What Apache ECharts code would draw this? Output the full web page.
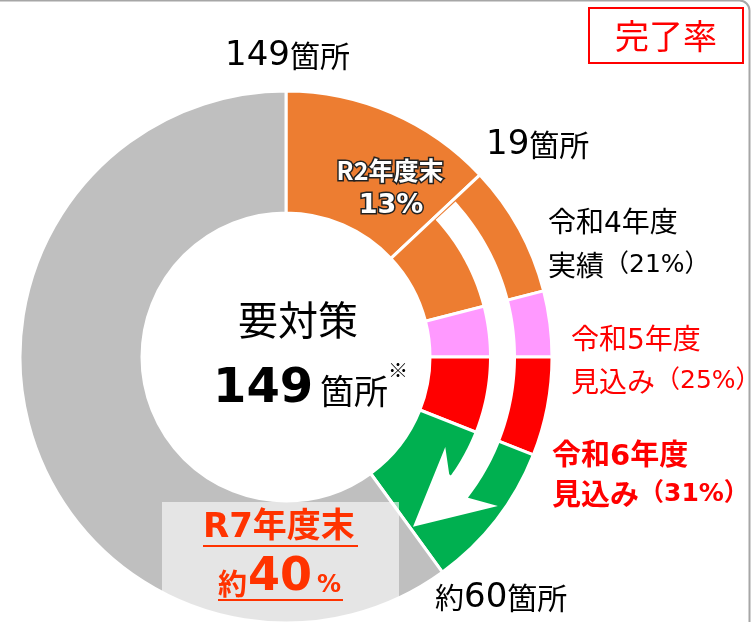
<!DOCTYPE html>
<html>
<head>
<meta charset="utf-8">
<script src="https://cdn.jsdelivr.net/npm/echarts@6/dist/echarts.min.js"></script>
<style>
html,body{margin:0;padding:0;background:#fff;}
#main{width:752px;height:622px;}
</style>
</head>
<body>
<div id="main"></div>
<script>
// ---- data ----
const categories = ['R2年度末', '令和4年度実績', '令和5年度見込み', '令和6年度見込み', '令和7年度末', '未対策'];
const shares = [13, 8, 4, 6, 9, 60];          // % of 149 sites
const milestoneCounts = ['149', '19', '60'];
const totalSites = 149;

// ---- style ----
const colors = ['#ed7d31', '#ed7d31', '#ff99ff', '#ff0000', '#00b050', '#bfbfbf'];
const cx = 286, cy = 357, r0 = 144, r1 = 266;
const JP = '"Noto Sans CJK JP"';
const NUM = '"DejaVu Sans", "Noto Sans CJK JP"';

function P(r, deg) {
  const a = deg * Math.PI / 180;
  return [cx + r * Math.sin(a), cy - r * Math.cos(a)];
}
// decorative white arrow between the two rings
const arrowPts = [];
for (let d = 47.5; d <= 127.7; d += 1) arrowPts.push(P(230, d));
arrowPts.push(P(230, 127.7));
arrowPts.push(P(259, 125.1));
arrowPts.push(P(212, 143.2));
arrowPts.push(P(183, 119.5));
arrowPts.push(P(201, 125.7));
for (let d = 125.7; d >= 47.5; d -= 1) arrowPts.push(P(203, d));
arrowPts.push(P(203, 47.5));

function txt(x, y, text, font, fill, align, extra) {
  return {
    type: 'text', z: 120,
    style: Object.assign({
      x: x, y: y, text: text, font: font, fill: fill,
      textAlign: align || 'left', textVerticalAlign: 'middle'
    }, extra || {})
  };
}
function rtxt(x, y, text, rich) {
  return {type: 'text', z: 120, style: {x: x, y: y, text: text, textVerticalAlign: 'middle', rich: rich}};
}
const siteRich = (fill) => ({
  p: {font: '29px ' + JP, fill: fill},
  d: {font: '34px "DejaVu Sans"', fill: fill},
  k: {font: '30px ' + JP, fill: fill}
});

const chart = echarts.init(document.getElementById('main'), null, {renderer: 'canvas'});
chart.setOption({
  animation: false,
  series: [{
    type: 'pie',
    center: [cx, cy],
    radius: [r0, r1],
    startAngle: 90,
    clockwise: true,
    silent: true,
    label: {show: false},
    labelLine: {show: false},
    itemStyle: {borderColor: '#fff', borderWidth: 3},
    emphasis: {disabled: true},
    data: categories.map((c, i) => ({name: c, value: shares[i], itemStyle: {color: colors[i]}}))
  }],
  graphic: [
    // frame
    {type: 'rect', z: 90, shape: {x: -20, y: 0.5, width: 769.5, height: 700, r: 10},
     style: {fill: 'none', stroke: '#a6a6a6', lineWidth: 2}},
    // arrow
    {type: 'polygon', z: 100, shape: {points: arrowPts}, style: {fill: '#fff'}},
    // translucent box
    {type: 'rect', z: 100, shape: {x: 162, y: 502, width: 237, height: 130},
     style: {fill: 'rgba(255,255,255,0.6)'}},
    // title box
    {type: 'rect', z: 100, shape: {x: 589, y: 8, width: 154, height: 55},
     style: {fill: '#fff', stroke: '#ff0000', lineWidth: 2}},
    txt(666, 36, '完了率', '34px ' + JP, '#ff0000', 'center'),
    // milestone labels
    rtxt(225, 56, '{d|' + milestoneCounts[0] + '}{k|箇所}', siteRich('#000')),
    rtxt(486, 145, '{d|' + milestoneCounts[1] + '}{k|箇所}', siteRich('#000')),
    rtxt(435, 598, '{p|約}{d|' + milestoneCounts[2] + '}{k|箇所}', siteRich('#000')),
    // R2 label inside wedge
    txt(390, 170, 'R2年度末', 'bold 25px ' + JP, '#fff', 'center', {stroke: '#222', lineWidth: 3}),
    txt(391, 206, '13%', 'bold 27px ' + NUM, '#fff', 'center', {stroke: '#222', lineWidth: 3}),
    // right side labels
    txt(548, 225, '令和4年度', '28px ' + NUM, '#000'),
    rtxt(548, 265, '{a|実績}{b|（21%）}',
      {a: {font: '28px ' + JP, fill: '#000'}, b: {font: '25px ' + NUM, fill: '#000'}}),
    txt(571, 342, '令和5年度', '28px ' + NUM, '#ff0000'),
    rtxt(571, 381, '{a|見込み}{b|（25%）}',
      {a: {font: '28px ' + JP, fill: '#ff0000'}, b: {font: '25px ' + NUM, fill: '#ff0000'}}),
    txt(552, 457, '令和6年度', 'bold 29px ' + NUM, '#ff0000'),
    rtxt(552, 494, '{a|見込み}{b|（31%）}',
      {a: {font: 'bold 29px ' + JP, fill: '#ff0000'}, b: {font: 'bold 25px ' + NUM, fill: '#ff0000'}}),
    // centre
    txt(298, 320, '要対策', '40px ' + JP, '#000', 'center'),
    txt(213, 390, String(totalSites), 'bold 48px ' + NUM, '#000'),
    txt(320, 391, '箇所', '34px ' + JP, '#000'),
    txt(388, 370, '※', '20px ' + JP, '#000'),
    // R7 box
    txt(203, 528, 'R7年度末', 'bold 34px ' + NUM, '#ff3300'),
    {type: 'line', z: 120, shape: {x1: 203, y1: 546, x2: 358, y2: 546}, style: {stroke: '#ff3300', lineWidth: 2}},
    txt(218, 584, '約', 'bold 29px ' + JP, '#ff3300'),
    txt(248, 578, '40', 'bold 46px ' + NUM, '#ff3300'),
    txt(317, 586, '%', 'bold 24px ' + NUM, '#ff3300'),
    {type: 'line', z: 120, shape: {x1: 218, y1: 600, x2: 343, y2: 600}, style: {stroke: '#ff3300', lineWidth: 2}}
  ]
});
</script>
</body>
</html>
